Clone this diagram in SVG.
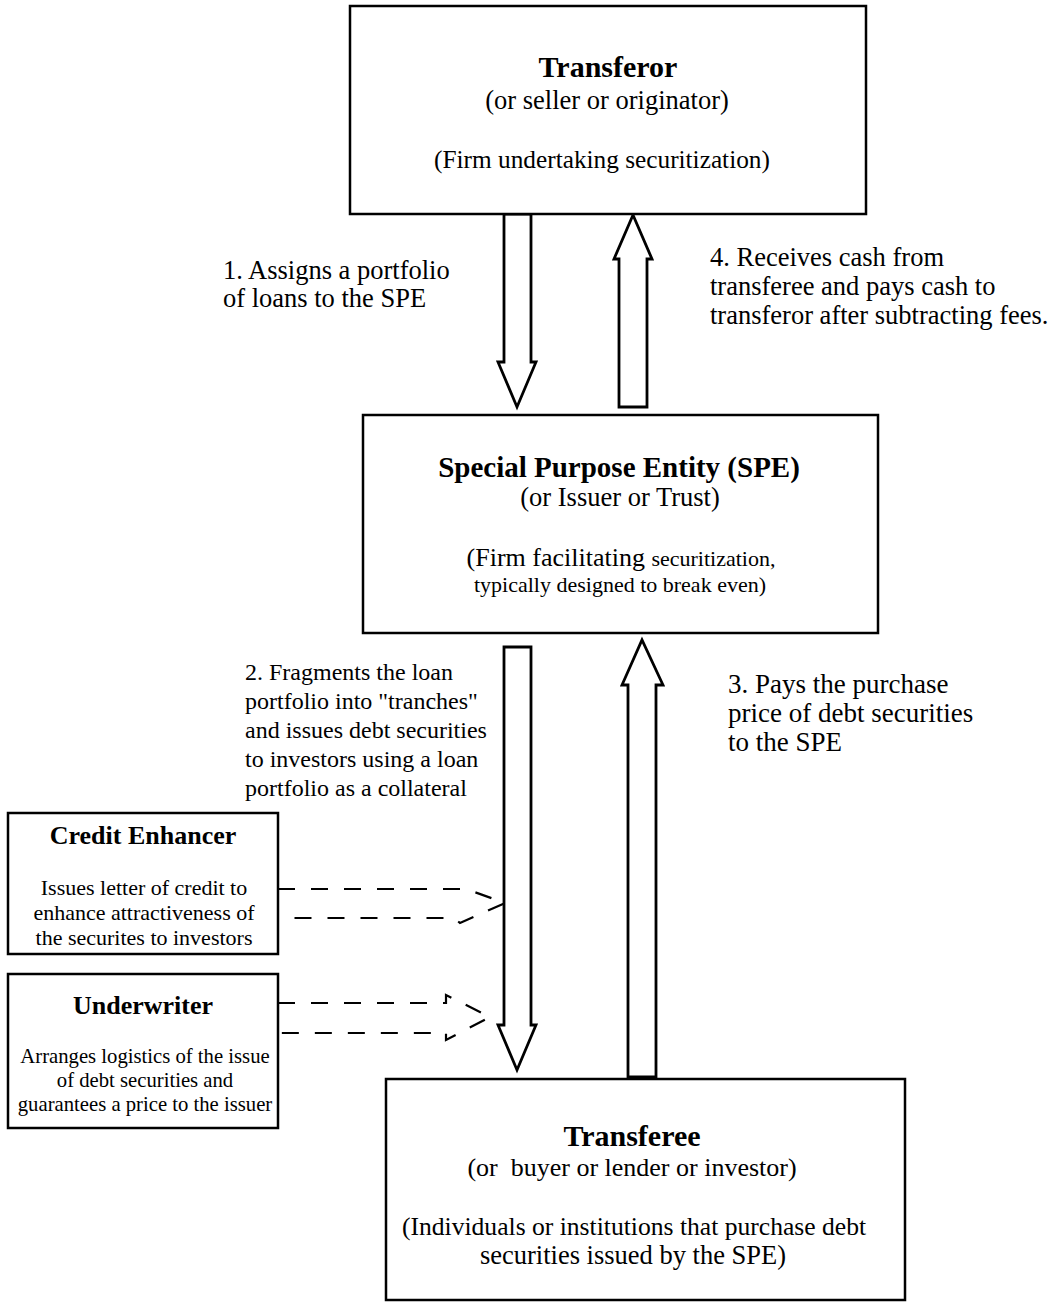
<svg xmlns="http://www.w3.org/2000/svg" width="1060" height="1308" viewBox="0 0 1060 1308">
<style>
.box{fill:#fff;stroke:#000;stroke-width:2.5}
.arr{fill:#fff;stroke:#000;stroke-width:2.8;stroke-linejoin:miter}
.dash{fill:none;stroke:#000;stroke-width:2.2;stroke-dasharray:17 16}
text{font-family:"Liberation Serif","Times New Roman",serif;fill:#000}
.t{font-size:30px;font-weight:bold;text-anchor:middle}
.s{font-size:26.5px;text-anchor:middle}
.lbl{font-size:26.5px}
.lbl2{font-size:24px}
.lbl3{font-size:27px}
.st{font-size:26px;font-weight:bold;text-anchor:middle}
.sb{font-size:22px;text-anchor:middle}
.sb2{font-size:20.7px;text-anchor:middle}
</style>
<rect width="1060" height="1308" fill="#fff"/>
<g id="connectors">
  <polygon id="arrow1" class="arr" points="504,214 531,214 531,362 536,362 517,407 498,362 504,362"/>
  <polygon id="arrow4" class="arr" points="619,407 647,407 647,259 652,259 633,215 614,259 619,259"/>
  <polygon id="arrow2" class="arr" points="504,647 531,647 531,1025 536,1025 517,1070 498,1025 504,1025"/>
  <polygon id="arrow3" class="arr" points="628,1077 656,1077 656,685 663,685 642,640 622,685 628,685"/>
  <path id="dash-credit" class="dash" d="M278,889 H466 L505,903 L460,923 L454,918 H278"/>
  <path id="dash-under" class="dash" d="M278,1003 H446 V995 L490,1017 L446,1040 V1033 H278"/>
</g>
<g id="transferor">
  <rect class="box" x="350" y="6" width="516" height="208"/>
  <text class="t" x="608" y="77">Transferor</text>
  <text class="s" x="607" y="109" font-size="27">(or seller or originator)</text>
  <text class="s" x="602" y="168" style="font-size:25.3px">(Firm undertaking securitization)</text>
</g>
<g id="spe">
  <rect class="box" x="363" y="415" width="515" height="218"/>
  <text class="t" x="619" y="477" style="font-size:29px">Special Purpose Entity (SPE)</text>
  <text class="s" x="620" y="506">(or Issuer or Trust)</text>
  <text class="s" x="621" y="566" style="font-size:26px">(Firm facilitating <tspan font-size="22">securitization,</tspan></text>
  <text class="sb" x="620" y="592">typically designed to break even)</text>
</g>
<g id="transferee">
  <rect class="box" x="386" y="1079" width="519" height="221"/>
  <text class="t" x="632" y="1146">Transferee</text>
  <text class="s" x="632" y="1176" xml:space="preserve" style="font-size:26px">(or  buyer or lender or investor)</text>
  <text class="s" x="634" y="1235" style="font-size:25.6px">(Individuals or institutions that purchase debt</text>
  <text class="s" x="633" y="1264">securities issued by the SPE)</text>
</g>
<g id="credit-enhancer">
  <rect class="box" x="8" y="813" width="270" height="141"/>
  <text class="st" x="143" y="844">Credit Enhancer</text>
  <text class="sb" x="144" y="895">Issues letter of credit to</text>
  <text class="sb" x="144" y="920">enhance attractiveness of</text>
  <text class="sb" x="144" y="945">the securites to investors</text>
</g>
<g id="underwriter">
  <rect class="box" x="8" y="974" width="270" height="154"/>
  <text class="st" x="143" y="1014">Underwriter</text>
  <text class="sb2" x="145" y="1063">Arranges logistics of the issue</text>
  <text class="sb2" x="145" y="1087">of debt securities and</text>
  <text class="sb2" x="145" y="1111">guarantees a price to the issuer</text>
</g>
<g id="labels">
  <text class="lbl" x="223" y="279">1. Assigns a portfolio</text>
  <text class="lbl" x="223" y="307">of loans to the SPE</text>
  <text class="lbl" x="710" y="266">4. Receives cash from</text>
  <text class="lbl" x="710" y="295">transferee and pays cash to</text>
  <text class="lbl" x="710" y="324">transferor after subtracting fees.</text>
  <text class="lbl2" x="245" y="680">2. Fragments the loan</text>
  <text class="lbl2" x="245" y="709">portfolio into "tranches"</text>
  <text class="lbl2" x="245" y="738">and issues debt securities</text>
  <text class="lbl2" x="245" y="767">to investors using a loan</text>
  <text class="lbl2" x="245" y="796">portfolio as a collateral</text>
  <text class="lbl3" x="728" y="693">3. Pays the purchase</text>
  <text class="lbl3" x="728" y="722">price of debt securities</text>
  <text class="lbl3" x="728" y="751">to the SPE</text>
</g>
</svg>
